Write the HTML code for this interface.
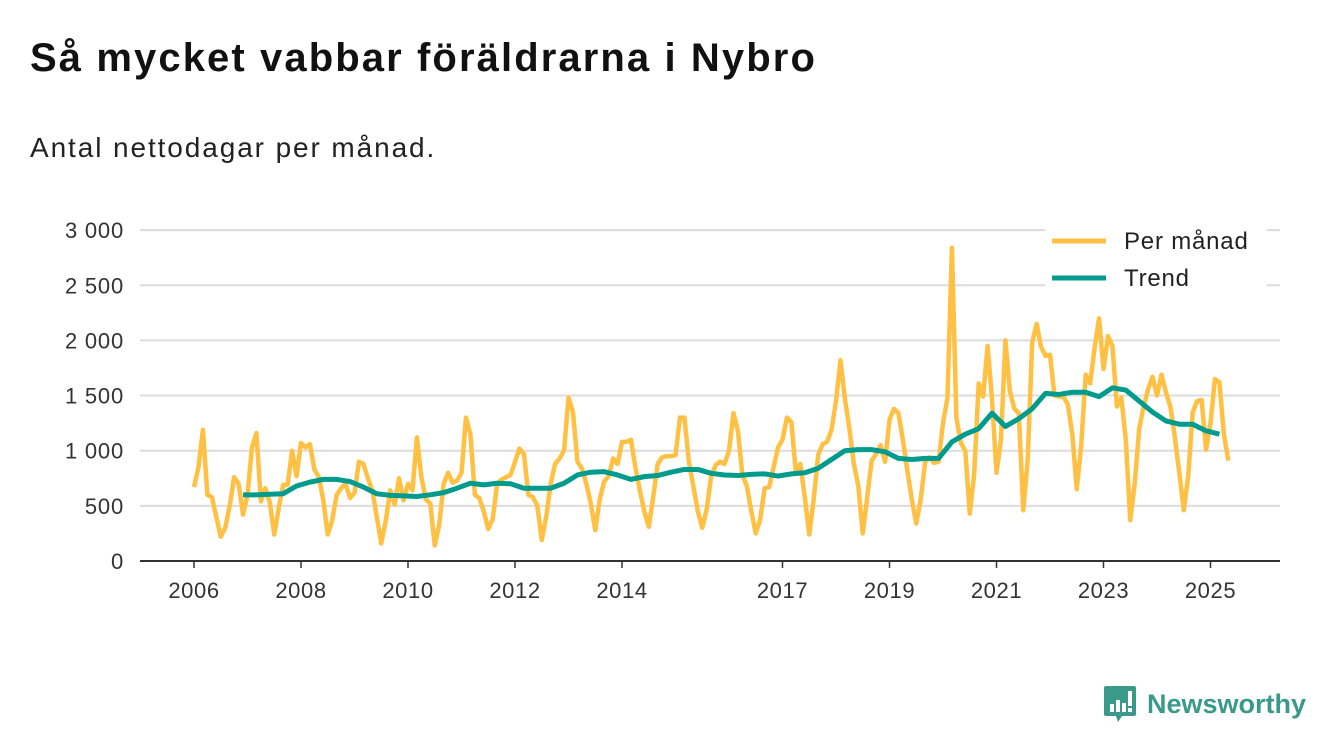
<!DOCTYPE html>
<html><head><meta charset="utf-8">
<style>
body{margin:0;background:#fff;width:1340px;height:753px;overflow:hidden;font-family:"Liberation Sans",sans-serif;}
#title{position:absolute;left:30px;top:36px;font-size:40px;font-weight:bold;color:#111;margin:0;letter-spacing:2.1px;}
#sub{position:absolute;left:30px;top:132px;font-size:28px;color:#222;margin:0;letter-spacing:1.9px;}
svg{position:absolute;left:0;top:0;}
#logo{position:absolute;left:1103px;top:684px;display:flex;align-items:center;}
#logo span{font-size:27px;font-weight:bold;color:#3a9a8a;margin-left:10px;}
</style></head><body>
<h1 id="title">Så mycket vabbar föräldrarna i Nybro</h1>
<p id="sub">Antal nettodagar per månad.</p>
<svg id="chart" width="1340" height="753"></svg>
<div id="logo">
<svg width="34" height="40" viewBox="0 0 34 40" style="position:static"><path d="M3 2h28a2 2 0 0 1 2 2v26a2 2 0 0 1-2 2H19l-4 6-2-6H3a2 2 0 0 1-2-2V4a2 2 0 0 1 2-2z" fill="#3a9a8a"/><rect x="7" y="20" width="4" height="8" fill="#fff"/><rect x="13" y="16" width="4" height="12" fill="#fff"/><rect x="19" y="19" width="4" height="9" fill="#fff"/><rect x="25" y="7" width="4" height="15" fill="#fff"/><rect x="25" y="24" width="4" height="4" fill="#fff"/></svg>
<span>Newsworthy</span></div>
<script>
const monthly=[670,850,1190,600,580,400,220,300,500,760,700,420,600,1030,1160,540,660,530,240,480,690,690,1000,770,1070,1030,1060,830,760,550,240,370,600,660,700,570,620,900,880,750,640,400,160,360,640,510,750,550,700,640,1120,760,560,520,140,330,700,800,710,730,800,1300,1150,600,570,450,290,380,700,740,760,780,900,1020,970,600,580,500,190,400,700,880,930,1000,1480,1350,900,840,700,520,280,560,720,770,930,880,1080,1080,1100,850,640,450,310,580,880,940,950,950,960,1300,1300,900,680,450,300,470,770,870,900,880,1000,1340,1180,780,680,450,250,380,660,670,850,1030,1100,1300,1260,800,880,580,240,560,960,1060,1080,1190,1450,1820,1470,1200,880,680,250,580,910,970,1050,900,1280,1380,1340,1100,820,560,340,560,900,940,890,900,1250,1480,2840,1300,1070,1000,430,790,1610,1490,1950,1460,800,1100,2000,1540,1380,1340,460,920,1980,2150,1940,1860,1870,1500,1490,1490,1420,1150,650,1050,1690,1610,1930,2200,1740,2040,1950,1400,1480,1100,370,700,1200,1400,1560,1670,1500,1690,1530,1400,1120,800,460,770,1350,1450,1460,1010,1250,1650,1620,1150,910];
const trend=[600,600,605,610,680,715,740,740,720,670,610,595,590,585,600,620,660,705,690,705,700,660,660,660,705,780,805,810,780,740,765,775,805,830,830,795,780,775,785,790,770,790,800,840,920,1000,1010,1010,990,930,920,930,930,1080,1150,1200,1340,1220,1290,1380,1520,1510,1530,1530,1490,1570,1550,1450,1350,1270,1240,1240,1180,1150];
const trendStartMonth=11, trendStep=3;
const yTicks=[0,500,1000,1500,2000,2500,3000];
const yTickLabels=["0","500","1 000","1 500","2 000","2 500","3 000"];
const xTickYears=[2006,2008,2010,2012,2014,2017,2019,2021,2023,2025];
const NS='http://www.w3.org/2000/svg';
const svg=document.getElementById('chart');
const X0=194,PXY=53.5,Y0=561,PXV=0.1103;
function xm(m){return X0+m*PXY/12;}
function xy(yr){return X0+(yr-2006)*PXY;}
function yv(v){return Y0-v*PXV;}
function mk(t,a){const e=document.createElementNS(NS,t);for(const k in a)e.setAttribute(k,a[k]);svg.appendChild(e);return e;}
const FONT='Liberation Sans, sans-serif';
yTicks.forEach((v,i)=>{
 if(v>0){const g=mk('line',{x1:140,x2:1280,y1:yv(v),y2:yv(v),stroke:'#dcdcdc','stroke-width':2});
 
 }
 const t=mk('text',{x:124,y:yv(v)+8,'text-anchor':'end','font-size':22,'letter-spacing':0.8,fill:'#333','font-family':FONT});
 t.textContent=yTickLabels[i];
 
 
});
const ax=mk('line',{x1:140,x2:1280,y1:Y0,y2:Y0,stroke:'#333','stroke-width':2});


xTickYears.forEach(yr=>{
 const tk=mk('line',{x1:xy(yr),x2:xy(yr),y1:Y0,y2:Y0+7,stroke:'#333','stroke-width':1.5});
 
 
 const t=mk('text',{x:xy(yr),y:598,'text-anchor':'middle','font-size':22,'letter-spacing':0.6,fill:'#333','font-family':FONT});
 t.textContent=yr;
 
 
});
const mp=mk('polyline',{points:monthly.map((v,i)=>xm(i)+','+yv(v)).join(' '),fill:'none',stroke:'#FFC043','stroke-width':4.5,'stroke-linejoin':'round'});


const tp=mk('polyline',{points:trend.map((v,i)=>xm(trendStartMonth+i*trendStep)+','+yv(v)).join(' '),fill:'none',stroke:'#009B8D','stroke-width':5,'stroke-linejoin':'round'});


const lb=mk('rect',{x:1045,y:222,width:222,height:72,fill:'#fff'});


[['Per månad','#FFC043',241],['Trend','#009B8D',278]].forEach(([n,c,y])=>{
 const l=mk('line',{x1:1052,x2:1106,y1:y,y2:y,stroke:c,'stroke-width':5});
 
 
 const t=mk('text',{x:1124,y:y+8,'font-size':24,'letter-spacing':0.8,fill:'#222','font-family':FONT});
 t.textContent=n;
 
 
});
</script>
</body></html>
